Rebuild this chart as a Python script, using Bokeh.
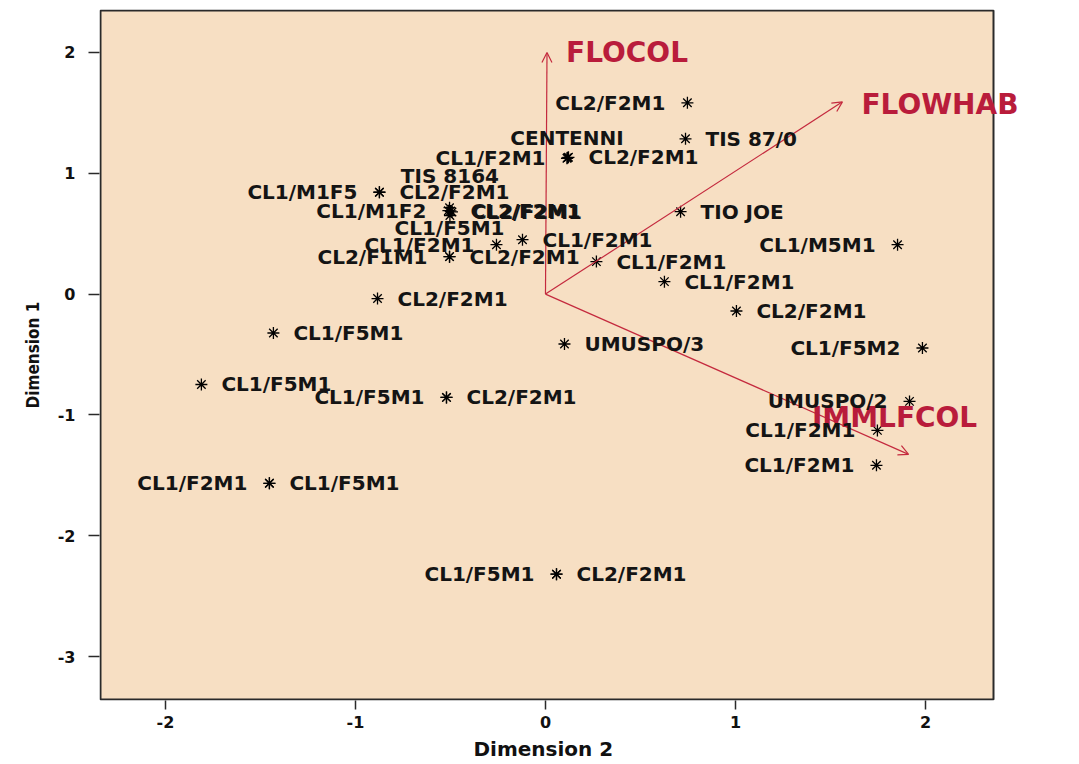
import numpy as np
from bokeh.plotting import figure
from bokeh.models import (ColumnDataSource, FixedTicker, Arrow, OpenHead,
                          LabelSet, Range1d, Title)
from bokeh.embed import file_html
from bokeh.resources import INLINE
from bokeh.core.properties import value

# ---------------- data ----------------
# object scores: Dimension 2 (x), Dimension 1 (y), label, label side
dim2 = [0.747, 0.737, 0.116, 0.121, 0.113, -0.874, -0.874,
        -0.511, -0.500, -0.492, -0.505, -0.503, 0.711, -0.258, -0.121,
        -0.505, -0.505, 0.268, 1.853, 0.626, 1.005, -0.884, -1.432,
        0.100, 1.984, -1.811, -0.521, -0.521, 1.916, 1.747, 1.742,
        -1.453, -1.453, 0.058, 0.058]
dim1 = [1.583, 1.285, 1.128, 1.132, 1.124, 0.843, 0.843,
        0.690, 0.688, 0.680, 0.715, 0.650, 0.682, 0.409, 0.450,
        0.310, 0.310, 0.269, 0.409, 0.103, -0.140, -0.037, -0.322,
        -0.413, -0.446, -0.748, -0.855, -0.855, -0.888, -1.128, -1.417,
        -1.566, -1.566, -2.318, -2.318]
names = ["CL2/F2M1", "TIS 87/0", "CL1/F2M1", "CL2/F2M1", "CENTENNI",
         "CL1/M1F5", "CL2/F2M1",
         "CL1/M1F2", "CL2/F2M1", "CL2/F2M1", "CL1/F5M1", "TIS 8164",
         "TIO JOE", "CL1/F2M1", "CL1/F2M1",
         "CL2/F1M1", "CL2/F2M1", "CL1/F2M1", "CL1/M5M1", "CL1/F2M1",
         "CL2/F2M1", "CL2/F2M1", "CL1/F5M1", "UMUSPO/3", "CL1/F5M2",
         "CL1/F5M1", "CL1/F5M1", "CL2/F2M1", "UMUSPO/2", "CL1/F2M1",
         "CL1/F2M1", "CL1/F2M1", "CL1/F5M1", "CL1/F5M1", "CL2/F2M1"]
sides = ["L", "R", "L", "R", "A", "L", "R",
         "L", "R", "R", "B", "AA", "R", "L", "R",
         "L", "R", "R", "L", "R", "R", "R", "R", "R", "L",
         "R", "L", "R", "L", "L", "L", "L", "R", "L", "R"]

# variable vectors
var_names = ["FLOCOL", "FLOWHAB", "IMMLFCOL"]
var_dim2 = [0.008, 1.563, 1.911]
var_dim1 = [2.000, 1.591, -1.326]

x_ticks = [-2, -1, 0, 1, 2]
y_ticks = [-3, -2, -1, 0, 1, 2]

# plotting region (data limits of the box)
x_lim = (-2.342, 2.358)
y_lim = (-3.355, 2.347)

# ---------------- styling ----------------
RED = "#c42a3e"
RED_TXT = "#b91c3b"
BG = "#f7dfc3"
EDGE = "#2a2a2a"
FONT = "DejaVu Sans"

W, H = 1063, 764
LEFT, TOP, BOTTOM = 99, 9, 64
FRAME_W = W - LEFT
px_per_x = 190.0
frame_h = H - TOP - BOTTOM
px_per_y = (frame_h - 2) / (y_lim[1] - y_lim[0])
x_start = x_lim[0] - 1 / px_per_x
x_end = x_start + FRAME_W / px_per_x

side_style = {
    "L": (-22, 0, "right"),
    "R": (20, 0, "left"),
    "A": (0, 20, "center"),
    "B": (0, -20, "center"),
    "AA": (0, 40, "center"),
}

p = figure(width=W, height=H,
           x_range=Range1d(x_start, x_end),
           y_range=Range1d(y_lim[0] - 1 / px_per_y, y_lim[1] + 1 / px_per_y),
           min_border_left=LEFT, min_border_right=0, min_border_top=TOP,
           min_border_bottom=BOTTOM,
           background_fill_color="white", border_fill_color="white",
           output_backend="svg", toolbar_location=None)
p.grid.visible = False
p.outline_line_color = None

# box
p.quad(left=[x_lim[0]], right=[x_lim[1]], bottom=[y_lim[0]], top=[y_lim[1]],
       fill_color=BG, line_color=EDGE, line_width=2)

# axes
p.xaxis.ticker = FixedTicker(ticks=x_ticks)
p.yaxis.ticker = FixedTicker(ticks=y_ticks)
p.xaxis.major_label_overrides = {t: str(t) for t in x_ticks}
p.yaxis.major_label_overrides = {t: str(t) for t in y_ticks}
for ax in (p.xaxis, p.yaxis):
    ax.axis_line_color = None
    ax.minor_tick_line_color = None
    ax.major_tick_in = 0
    ax.major_tick_line_color = EDGE
    ax.major_tick_line_width = 1.5
    ax.major_label_text_font = FONT
    ax.major_label_text_font_style = "bold"
    ax.major_label_text_font_size = "16px"
    ax.major_label_text_color = "#111111"
    ax.axis_label_text_color = "#111111"
    ax.axis_label_text_font_style = "bold"
p.xaxis.major_tick_out = 9
p.xaxis.major_label_standoff = 6
p.yaxis.major_tick_out = 11
p.yaxis.major_label_standoff = 13
p.yaxis.axis_label = "Dimension 1"
p.yaxis.axis_label_text_font = "DejaVu Sans Condensed"
p.yaxis.axis_label_text_font_size = "17px"
p.yaxis.axis_label_standoff = 12

p.add_layout(Title(text="Dimension 2", align="left", offset=374,
                   text_font=FONT, text_font_style="bold",
                   text_font_size="20px", text_color="#111111",
                   standoff=8), "below")

# arrows
vsrc = ColumnDataSource(dict(
    x0=[0.0] * len(var_names), y0=[0.0] * len(var_names),
    x1=var_dim2, y1=var_dim1, name=var_names,
    xo=[19, 19, -14], yo=[0, -3, 37], ta=["left", "left", "center"]))
p.add_layout(Arrow(x_start="x0", y_start="y0", x_end="x1", y_end="y1",
                   source=vsrc, line_color=RED, line_width=1.2,
                   end=OpenHead(size=10, line_color=RED, line_width=1.2)))
p.add_layout(LabelSet(x="x1", y="y1", text="name", source=vsrc,
                      x_offset="xo", y_offset="yo", text_align="ta",
                      text_baseline="middle", text_color=RED_TXT,
                      text_font=value(FONT), text_font_style="bold",
                      text_font_size="28px"))

# points
xo = [side_style[s][0] for s in sides]
yo = [side_style[s][1] for s in sides]
ta = [side_style[s][2] for s in sides]
src = ColumnDataSource(dict(x=dim2, y=dim1, name=names, xo=xo, yo=yo, ta=ta))
p.scatter("x", "y", source=src, marker="asterisk", size=12,
          line_color="black", line_width=1.3)
p.add_layout(LabelSet(x="x", y="y", text="name", source=src,
                      x_offset="xo", y_offset="yo", text_align="ta",
                      text_baseline="middle", text_color="#141414",
                      text_font=value(FONT), text_font_style="bold",
                      text_font_size="20px"))

open("out.html", "w").write(file_html(p, INLINE))
